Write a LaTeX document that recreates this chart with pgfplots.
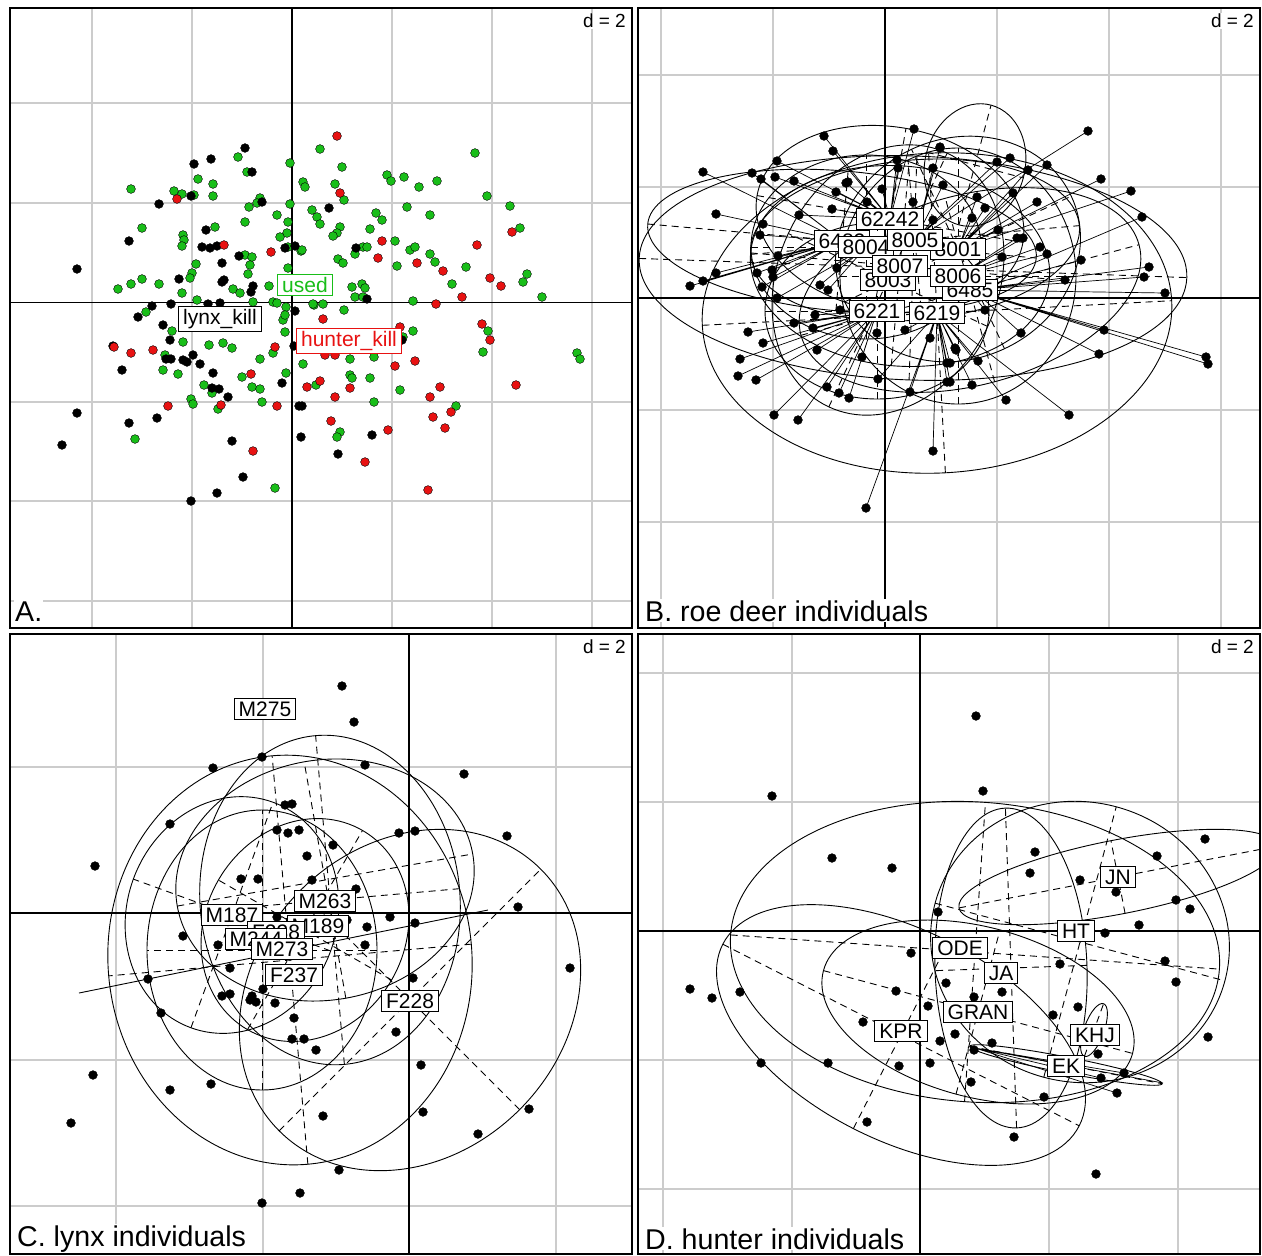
\documentclass[border=0pt]{standalone}
\usepackage{pgfplots}
\pgfplotsset{compat=1.18}
\usepackage{fontspec}
\setmainfont{Liberation Sans}
\definecolor{agreen}{RGB}{25,190,25}
\definecolor{ared}{RGB}{232,18,18}
\newcommand{\labfont}{\fontsize{21}{23}\selectfont}
\newcommand{\titfont}{\fontsize{28.6}{30}\selectfont}
\newcommand{\dfont}{\fontsize{19}{21}\selectfont}
% ellipse with dashed axes: cx, cy, a, b, angle
\newcommand{\ellax}[5]{%
  \draw[line width=0.9pt, shift={(axis cs:#1,#2)}, rotate=#5] (0pt,0pt) ellipse [x radius=#3pt, y radius=#4pt];
  \draw[line width=0.9pt, dash pattern=on 7pt off 5pt, shift={(axis cs:#1,#2)}, rotate=#5] (-#3pt,0pt) -- (#3pt,0pt) (0pt,-#4pt) -- (0pt,#4pt);}
\newcommand{\lab}[3]{\node[draw=black, line width=0.9pt, fill=white, inner xsep=4.5pt, inner ysep=3pt, font=\labfont] at (axis cs:#1,#2) {#3};}
\pgfplotsset{panel/.style={x=1pt, y=1pt, y dir=reverse, anchor=north west,
  xticklabels={}, yticklabels={}, major tick length=0pt,
  grid=major, major grid style={draw=black!20, line width=1.3pt},
  axis line style={black, line width=1.2pt},
  extra x tick labels={}, extra y tick labels={},
  extra tick style={grid=major, major grid style={draw=black, line width=1.3pt}},
  dots/.style={only marks, mark=*, mark size=4.4pt, mark options={draw=none}},
  star/.style={black, line width=0.7pt, mark=none}},
  over/.style={x=1pt, y=1pt, y dir=reverse, anchor=north west, hide axis, clip=false}}
\begin{document}
\begin{tikzpicture}
\useasboundingbox (0pt,0pt) rectangle (1262pt,-1256pt);
%%%%%%%%%%%%%%%% A
\begin{axis}[panel, at={(10pt,-8pt)}, xmin=10, xmax=632, ymin=8, ymax=628,
  xtick={92,192,392,492,592}, ytick={103,203,402,501,601},
  extra x ticks={292}, extra y ticks={302.5}]
\addplot[dots, fill=agreen] coordinates {
(238,157)(247,172)(290,163)(320,149)(198,179)(213,184)(131,189)(174,191)(182,194)(194,195)(213,196)(260,198)(257,203)(249,207)(290,204)(303,182)(305,187)(277,215)(245,222)(288,222)(312,210)(317,217)(142,228)(215,227)(183,235)(184,240)(182,246)(287,233)(280,237)(288,247)(301,251)(245,255)(252,257)(250,265)(248,274)(196,264)(192,273)(190,278)(142,279)(131,284)(118,289)(159,284)(182,293)(233,289)(240,293)(269,286)(288,268)(273,302)(277,303)(286,307)(314,305)(197,300)(253,302)(146,312)
(342,167)(335,184)(344,200)(387,175)(391,181)(404,177)(419,187)(437,181)(475,153)(487,196)(510,206)(407,207)(430,215)(320,224)(376,213)(382,220)(370,229)(340,227)(337,233)(333,236)(520,228)(395,241)(302,250)(355,254)(363,247)(367,247)(410,250)(415,247)(338,259)(343,263)(430,254)(435,262)(397,266)(466,267)(527,274)(523,282)(452,284)(352,287)(362,284)(365,288)(355,297)(363,297)(313,304)(323,304)(413,301)(542,297)(344,310)
(172,331)(183,342)(209,345)(223,343)(232,348)(165,355)(163,370)(178,374)(204,385)(212,393)(191,399)(193,404)(218,409)(242,377)(252,387)(260,389)(262,402)(260,359)(273,353)(286,373)(283,320)(285,315)(285,332)(135,439)(275,488)
(413,331)(403,337)(488,331)(483,352)(577,353)(580,359)(350,359)(374,357)(303,364)(350,375)(352,378)(370,378)(316,385)(400,390)(374,402)(456,406)(340,432)(337,437)};
\addplot[dots, fill=black] coordinates {
(245,148)(211,159)(194,164)(252,172)(191,196)(159,204)(262,202)(206,230)(129,241)(202,247)(210,248)(217,246)(285,248)(295,246)(77,269)(239,256)(222,263)(179,279)(224,280)(222,282)(253,286)(251,292)(295,311)(152,306)(171,304)(208,304)(220,303)(138,317)(329,208)(356,248)(367,299)(163,325)(170,340)(113,346)(122,370)(166,359)(171,359)(183,360)(187,362)(193,355)(200,364)(213,373)(212,388)(219,389)(228,397)(282,383)(294,346)(299,406)(77,413)(129,423)(157,418)(62,445)(232,441)(301,437)(243,477)(217,493)(191,501)(402,340)(302,406)(372,435)(338,454)};
\addplot[dots, fill=ared] coordinates {
(337,136)(340,193)(177,199)(224,245)(271,252)(382,241)(477,245)(378,258)(417,263)(443,271)(490,278)(501,286)(436,304)(462,297)(323,319)(512,232)(114,347)(131,353)(153,350)(168,406)(221,405)(251,374)(277,406)(275,347)(253,451)(400,327)(482,324)(490,340)(325,355)(335,355)(415,361)(395,366)(320,381)(307,387)(350,388)(440,387)(430,397)(516,385)(335,397)(433,417)(451,412)(331,421)(388,430)(445,428)(365,462)(428,490)};
\end{axis}
\begin{axis}[over, at={(10pt,-8pt)}, xmin=10, xmax=632, ymin=8, ymax=628]
\node[draw=agreen, text=agreen, line width=0.9pt, fill=white, inner xsep=4.5pt, inner ysep=3pt, font=\labfont] at (axis cs:305,285) {used};
\lab{220}{319}{lynx\_kill}
\node[draw=ared, text=ared, line width=0.9pt, fill=white, inner xsep=4.5pt, inner ysep=3pt, font=\labfont] at (axis cs:349,341) {hunter\_kill};
\node[anchor=north east, fill=white, inner sep=1pt, font=\dfont] at (axis cs:627,13) {d = 2};
\node[anchor=base west, fill=white, inner sep=1pt, font=\titfont] at (axis cs:14,621) {A.};
\end{axis}
%%%%%%%%%%%%%%%% B
\begin{axis}[panel, at={(638pt,-8pt)}, xmin=638, xmax=1260, ymin=8, ymax=628,
  xtick={661,773,997,1109,1221}, ytick={75,187,410,522},
  extra x ticks={885}, extra y ticks={298}]
% stars: centroid to members
\addplot[star] coordinates {(842,241)(703,172)(842,241)(716,214)(842,241)(716,273)(842,241)(703,281)(842,241)(690,286)(842,241)(757,273)(842,241)(752,173)(842,241)(761,179)(842,241)(763,224)(842,241)(760,235)(842,241)(778,256)(842,241)(772,270)(842,241)(773,277)(842,241)(762,287)(842,241)};
\addplot[star] coordinates {(890,219)(824,136)(890,219)(833,151)(890,219)(777,161)(890,219)(775,177)(890,219)(794,181)(890,219)(846,183)(890,219)(836,192)(890,219)(882,189)(890,219)(867,202)(890,219)(832,209)(890,219)(799,215)(890,219)(914,129)(890,219)(897,160)(890,219)(898,168)(890,219)};
\addplot[star] coordinates {(915,240)(933,168)(915,240)(940,148)(915,240)(943,185)(915,240)(913,202)(915,240)(933,220)(915,240)(1088,131)(915,240)(1010,158)(915,240)(997,162)(915,240)};
\addplot[star] coordinates {(958,249)(1028,170)(958,249)(1047,165)(958,249)(1101,179)(958,249)(1131,191)(958,249)(1013,193)(958,249)(1037,202)(958,249)(977,197)(958,249)(985,208)(958,249)(972,218)(958,249)(998,230)(958,249)};
\addplot[star] coordinates {(970,290)(1142,217)(970,290)(1149,267)(970,290)(1144,277)(970,290)(1165,293)(970,290)(1081,260)(970,290)(1065,280)(970,290)(1206,357)(970,290)(1208,364)(970,290)(1104,330)(970,290)(1099,354)(970,290)};
\addplot[star] coordinates {(958,276)(1017,238)(958,276)(1023,238)(958,276)(1040,247)(958,276)(1047,254)(958,276)(1002,257)(958,276)(985,310)(958,276)(1021,333)(958,276)};
\addplot[star] coordinates {(866,247)(820,285)(866,247)(828,290)(866,247)(837,268)(866,247)(777,298)(866,247)};
\addplot[star] coordinates {(877,311)(840,310)(877,311)(815,315)(877,311)(794,323)(877,311)(813,328)(877,311)(877,333)(877,311)(748,332)(877,311)(763,343)(877,311)(817,350)(877,311)(740,359)(877,311)(738,376)(877,311)(756,380)(877,311)(774,415)(877,311)(798,420)(877,311)(827,387)(877,311)(839,393)(877,311)(849,398)(877,311)(862,357)(877,311)};
\addplot[star] coordinates {(937,313)(878,379)(937,313)(910,392)(937,313)(933,451)(937,313)(866,508)(937,313)(947,363)(937,313)(947,382)(937,313)(956,350)(937,313)(950,363)(937,313)(978,361)(937,313)(950,382)(937,313)(972,385)(937,313)(1006,400)(937,313)(1069,415)(937,313)(955,348)(937,313)(905,330)(937,313)(930,338)(937,313)};
\addplot[dots, fill=black] coordinates {
(914,129)(824,136)(833,151)(777,161)(703,172)(752,173)(761,179)(775,177)(794,181)(846,183)(848,182)(836,192)(882,189)(867,202)(832,209)(799,215)(716,214)(763,224)(760,235)(897,160)(898,168)(933,168)(940,148)(943,185)(913,202)(933,220)(778,256)(716,273)(703,281)(690,286)(757,273)(772,270)(773,277)(762,287)(820,285)(828,290)(837,268)(777,298)(840,310)(815,315)(794,323)(813,328)(877,333)(748,332)(763,343)(817,350)
(1088,131)(940,147)(1010,158)(997,162)(1028,170)(1047,165)(1101,179)(1131,191)(1013,193)(1037,202)(977,197)(985,208)(1142,217)(972,218)(998,230)(1017,238)(1023,238)(1040,247)(1047,254)(1002,257)(1081,260)(1149,267)(1144,277)(1065,280)(1165,293)(1104,330)(1021,333)(955,348)(1099,354)(1206,357)(1208,364)
(862,357)(740,359)(738,376)(756,380)(827,387)(839,393)(849,398)(878,379)(910,392)(774,415)(798,420)(933,451)(866,508)(947,363)(947,382)(956,350)(950,363)(978,361)(950,382)(972,385)(1006,400)(1069,415)(905,330)(930,338)(985,310)};
\ellax{913}{268}{274}{112}{-2}
\ellax{937}{313}{235}{160}{3}
\ellax{890}{219}{135}{92}{-10}
\ellax{958}{249}{125}{110}{25}
\ellax{866}{247}{115}{92}{0}
\ellax{915}{240}{165}{80}{5}
\ellax{900}{266}{150}{100}{-5}
\ellax{888}{280}{140}{110}{65}
\ellax{877}{311}{112}{88}{0}
\ellax{842}{241}{195}{70}{-5}
\ellax{958}{276}{118}{128}{0}
\ellax{970}{290}{175}{95}{15}
\ellax{975}{165}{50}{62}{-15}
\end{axis}
\begin{axis}[over, at={(638pt,-8pt)}, xmin=638, xmax=1260, ymin=8, ymax=628]
\lab{890}{219}{62242}
\lab{842}{241}{6482}
\lab{866}{247}{8004}
\lab{958}{249}{8001}
\lab{915}{240}{8005}
\lab{888}{280}{8003}
\lab{900}{266}{8007}
\lab{970}{290}{6485}
\lab{958}{276}{8006}
\lab{877}{311}{6221}
\lab{937}{313}{6219}
\node[anchor=north east, fill=white, inner sep=1pt, font=\dfont] at (axis cs:1255,13) {d = 2};
\node[anchor=base west, fill=white, inner sep=1pt, font=\titfont] at (axis cs:644,621) {B. roe deer individuals};
\end{axis}
%%%%%%%%%%%%%%%% C
\begin{axis}[panel, at={(10pt,-634pt)}, xmin=10, xmax=632, ymin=634, ymax=1254,
  xtick={116,263,556}, ytick={767,1060,1206},
  extra x ticks={409}, extra y ticks={913}]
\addplot[dots, fill=black] coordinates {
(342,686)(354,722)(262,757)(213,768)(365,765)(464,774)(285,805)(292,804)(170,824)(95,866)(277,830)(288,833)(299,830)(333,845)(399,833)(415,831)(507,836)(307,856)(241,879)(258,879)(312,880)(356,889)(518,907)(390,917)(347,920)(415,923)(367,927)(277,917)(183,936)(218,945)(365,945)
(570,968)(148,979)(230,968)(263,989)(222,996)(230,994)(252,996)(256,1002)(250,1000)(275,1003)(413,978)(161,1013)(294,1018)(292,1039)(304,1039)(316,1050)(396,1032)(421,1065)(93,1075)(170,1090)(211,1084)(71,1123)(323,1116)(423,1112)(529,1109)(478,1134)(339,1170)(300,1193)(262,1203)};
\addplot[black, line width=0.9pt] coordinates {(79,993) (488,910)};
\ellax{410}{1000}{185}{155}{45}
\ellax{290}{960}{205}{182}{95}
\ellax{262}{950}{140}{115}{90}
\ellax{330}{900}{165}{130}{95}
\ellax{232}{915}{120}{105}{70}
\ellax{305}{930}{115}{100}{60}
\ellax{325}{880}{150}{120}{10}
\end{axis}
\begin{axis}[over, at={(10pt,-634pt)}, xmin=10, xmax=632, ymin=634, ymax=1254]
\lab{265}{709}{M275}
\lab{232}{915}{M187}
\lab{325}{901}{M263}
\lab{318}{926}{M189}
\lab{276}{932}{F238}
\lab{256}{939}{M244}
\lab{282}{949}{M273}
\lab{294}{975}{F237}
\lab{410}{1001}{F228}
\node[anchor=north east, fill=white, inner sep=1pt, font=\dfont] at (axis cs:627,639) {d = 2};
\node[anchor=base west, fill=white, inner sep=1pt, font=\titfont] at (axis cs:16,1246) {C. lynx individuals};
\end{axis}
%%%%%%%%%%%%%%%% D
\begin{axis}[panel, at={(638pt,-634pt)}, xmin=638, xmax=1260, ymin=634, ymax=1254,
  xtick={663,792,1049,1178}, ytick={673,802,1060,1189},
  extra x ticks={920}, extra y ticks={931}]
\addplot[star] coordinates {(975,1048)(1163,1083)(975,1048)(1124,1073)(975,1048)(1117,1093)(975,1048)(1101,1078)};
\addplot[dots, fill=black] coordinates {
(976,716)(983,791)(772,796)(832,858)(892,868)(1035,852)(1030,873)(1080,880)(1157,856)(1205,839)(1116,892)(1176,900)(1190,909)(938,912)(1139,925)(1105,933)
(911,953)(1060,964)(1165,961)(1176,982)(690,989)(712,998)(740,992)(896,991)(946,983)(1002,992)(974,997)(928,1006)(1053,1015)(1078,1007)(863,1022)(955,1034)(940,1041)(992,1043)(974,1050)(1208,1037)(1098,1054)(761,1063)(828,1063)(899,1066)(930,1063)(1124,1073)(1101,1078)(971,1082)(1044,1097)(1117,1093)(867,1122)(1014,1137)(1096,1174)};
\ellax{901}{1035}{200}{105}{-27}
\ellax{975}{952}{245}{150}{-4}
\ellax{1080}{942}{150}{140}{-15}
\ellax{1011}{968}{160}{76}{92}
\ellax{978}{1012}{160}{85}{-15}
\ellax{1118}{877}{162}{37}{11}
\ellax{1094}{1030}{28}{10}{70}
\ellax{1066}{1065}{98}{8}{-11}
\end{axis}
\begin{axis}[over, at={(638pt,-634pt)}, xmin=638, xmax=1260, ymin=634, ymax=1254]
\lab{1118}{877}{JN}
\lab{1076}{931}{HT}
\lab{960}{948}{ODE}
\lab{1001}{973}{JA}
\lab{978}{1012}{GRAN}
\lab{901}{1031}{KPR}
\lab{1095}{1035}{KHJ}
\lab{1066}{1066}{EK}
\node[anchor=north east, fill=white, inner sep=1pt, font=\dfont] at (axis cs:1255,639) {d = 2};
\node[anchor=base west, fill=white, inner sep=1pt, font=\titfont] at (axis cs:644,1249) {D. hunter individuals};
\end{axis}
\end{tikzpicture}
\end{document}
